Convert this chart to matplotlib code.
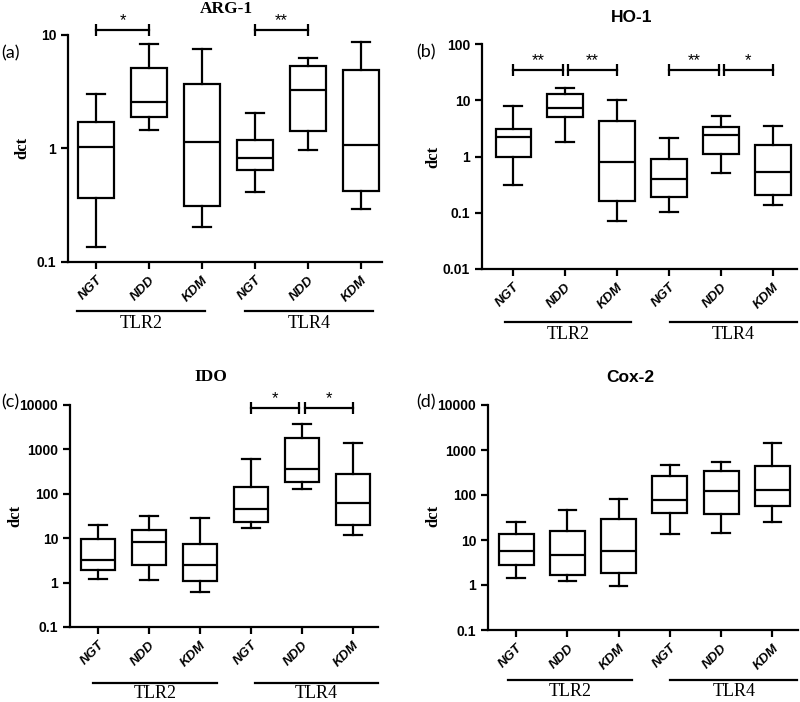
import matplotlib
matplotlib.use("Agg")
import matplotlib.pyplot as plt
import matplotlib.transforms as mtransforms

groups = ["NGT", "NDD", "KDM", "NGT", "NDD", "KDM"]
receptors = ["TLR2", "TLR4"]

# box stats: whisker low, Q1, median, Q3, whisker high
arg1_low = [0.135, 1.45, 0.204, 0.41, 0.97, 0.296]
arg1_q1 = [0.37, 1.9, 0.31, 0.64, 1.44, 0.42]
arg1_med = [1.04, 2.55, 1.13, 0.83, 3.3, 1.07]
arg1_q3 = [1.71, 5.15, 3.67, 1.18, 5.3, 4.94]
arg1_high = [3.01, 8.3, 7.6, 2.04, 6.3, 8.7]

ho1_low = [0.31, 1.83, 0.070, 0.104, 0.50, 0.139]
ho1_q1 = [0.99, 5.1, 0.161, 0.188, 1.12, 0.204]
ho1_med = [2.18, 7.2, 0.81, 0.40, 2.40, 0.54]
ho1_q3 = [3.12, 12.8, 4.28, 0.90, 3.30, 1.61]
ho1_high = [7.9, 16.4, 9.9, 2.15, 5.25, 3.48]

ido_low = [1.19, 1.17, 0.63, 17.3, 131, 12.1]
ido_q1 = [1.90, 2.55, 1.09, 23.7, 188, 19.6]
ido_med = [3.19, 8.3, 2.46, 45.6, 357, 61]
ido_q3 = [9.6, 15.6, 7.45, 145, 1778, 275]
ido_high = [20, 32.3, 28.1, 598, 3730, 1419]

cox2_low = [1.46, 1.25, 0.95, 13.6, 14.6, 25.5]
cox2_q1 = [2.74, 1.70, 1.88, 40.5, 38.5, 56]
cox2_med = [5.6, 4.64, 5.6, 76, 125, 127]
cox2_q3 = [13.4, 15.8, 29.8, 264, 336, 440]
cox2_high = [25.5, 45.6, 80, 456, 541, 1406]

# significance brackets: (left box, right box, stars)
arg1_sig = [(1, 2, "*"), (4, 5, "**")]
ho1_sig = [(1, 2, "**"), (2, 3, "**"), (4, 5, "**"), (5, 6, "*")]
ido_sig = [(4, 5, "*"), (5, 6, "*")]
cox2_sig = []

W, H = 800, 702
fig = plt.figure(figsize=(W / 100, H / 100), dpi=100)

SANS = "Liberation Sans"
SERIF = "Liberation Serif"


def fx(px):
    return px / W


def fy(py):
    return 1 - py / H


def draw_panel(box, xlim, ylim, yticks, ytlabels, low, q1, med, q3, high,
               sig, sig_y, title, title_font, title_xy, letter, letter_xy,
               dct_xy, spans, line_py, text_py):
    left, top, right, bottom = box
    ax = fig.add_axes([fx(left), fy(bottom), fx(right - left), (bottom - top) / H])
    stats = []
    for i in range(len(groups)):
        stats.append(dict(whislo=low[i], q1=q1[i], med=med[i], q3=q3[i],
                          whishi=high[i], fliers=[]))
    lp = dict(color="black", linewidth=1.6)
    ax.bxp(stats, positions=range(1, 7), widths=0.68, capwidths=0.34,
           showfliers=False, patch_artist=True,
           boxprops=dict(facecolor="white", edgecolor="black", linewidth=1.6),
           medianprops=lp, whiskerprops=lp, capprops=lp)
    ax.set_yscale("log")
    ax.set_xlim(*xlim)
    ax.set_ylim(*ylim)
    ax.set_yticks(yticks)
    ax.set_yticklabels(ytlabels, fontfamily=SANS, fontweight="bold", fontsize=10)
    ax.minorticks_off()
    ax.set_xticks(range(1, 7))
    ax.set_xticklabels(groups, rotation=45, ha="right", rotation_mode="anchor",
                       fontfamily=SANS, fontweight="bold", fontstyle="italic",
                       fontsize=9.5)
    for s in ["top", "right"]:
        ax.spines[s].set_visible(False)
    for s in ["left", "bottom"]:
        ax.spines[s].set_linewidth(1.6)
    ax.tick_params(width=1.6, length=5, direction="out")

    # significance brackets
    ends = [a for a, b, t in sig]
    starts = [b for a, b, t in sig]
    for a, b, t in sig:
        x1 = a + 0.05 if a in starts else a
        x2 = b - 0.05 if b in ends else b
        ax.plot([x1, x2], [sig_y, sig_y], color="black", lw=1.6,
                marker="|", markersize=8, mew=1.6, clip_on=False)
        ax.annotate(t, ((x1 + x2) / 2, sig_y), xytext=(0, 1),
                    textcoords="offset points", ha="center", va="bottom",
                    fontsize=12, fontfamily=SANS, annotation_clip=False)

    # TLR2 / TLR4 group lines under the axis
    trans = mtransforms.blended_transform_factory(ax.transData, fig.transFigure)
    for (x0, x1), name in zip(spans, receptors):
        ax.plot([x0, x1], [fy(line_py), fy(line_py)], color="black", lw=1.6,
                transform=trans, clip_on=False)
        ax.text((x0 + x1) / 2, fy(text_py), name, transform=trans,
                ha="center", va="center", fontsize=13, fontfamily=SERIF)

    fig.text(fx(title_xy[0]), fy(title_xy[1]), title, ha="center", va="center",
             fontsize=12.5, fontweight="bold", fontfamily=title_font)
    fig.text(fx(letter_xy[0]), fy(letter_xy[1]), letter, ha="left", va="center",
             fontsize=13, fontfamily="Lato")
    fig.text(fx(dct_xy[0]), fy(dct_xy[1]), "dct", ha="center", va="center",
             rotation=90, fontsize=12, fontweight="bold", fontfamily=SERIF)
    return ax


draw_panel((68, 35, 382, 262), (0.47, 6.4), (0.1, 10), [0.1, 1, 10],
           ["0.1", "1", "10"], arg1_low, arg1_q1, arg1_med, arg1_q3, arg1_high,
           arg1_sig, 11.1, "ARG-1", SERIF, (226, 9), "(a)", (1, 53), (22, 148),
           [(0.64, 3.06), (3.81, 6.23)], 311, 323)

draw_panel((482, 44, 797, 269), (0.4, 6.46), (0.01, 100),
           [0.01, 0.1, 1, 10, 100], ["0.01", "0.1", "1", "10", "100"],
           ho1_low, ho1_q1, ho1_med, ho1_q3, ho1_high,
           ho1_sig, 34.8, "HO-1", SANS, (632, 18), "(b)", (416, 52), (433, 157),
           [(0.85, 3.27), (4.02, 6.46)], 322, 335)

draw_panel((70, 405, 378, 627), (0.45, 6.49), (0.1, 10000),
           [0.1, 1, 10, 100, 1000, 10000],
           ["0.1", "1", "10", "100", "1000", "10000"],
           ido_low, ido_q1, ido_med, ido_q3, ido_high,
           ido_sig, 8710, "IDO", SERIF, (211, 377), "(c)", (1, 402), (15, 516),
           [(0.9, 3.33), (4.08, 6.49)], 683, 693)

draw_panel((488, 405, 798, 630), (0.45, 6.5), (0.1, 10000),
           [0.1, 1, 10, 100, 1000, 10000],
           ["0.1", "1", "10", "100", "1000", "10000"],
           cox2_low, cox2_q1, cox2_med, cox2_q3, cox2_high,
           cox2_sig, 1, "Cox-2", SANS, (630, 378), "(d)", (416, 402), (433, 516),
           [(0.84, 3.27), (4.0, 6.49)], 680, 692)

fig.savefig("out.png", dpi=100, facecolor="white")
